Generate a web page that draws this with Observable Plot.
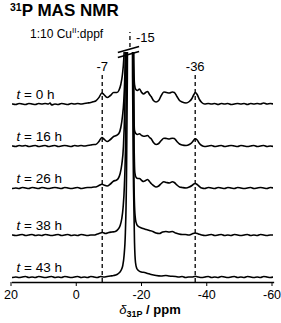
<!DOCTYPE html>
<html><head><meta charset="utf-8">
<script src="https://cdn.jsdelivr.net/npm/d3@7"></script>
<script src="https://cdn.jsdelivr.net/npm/@observablehq/plot@0.6"></script>
<style>
html,body{margin:0;padding:0;background:#fff;}
#wrap{position:relative;width:281px;height:323px;font-family:Arial,"Liberation Sans",sans-serif;color:#000;overflow:hidden;}
#wrap svg{position:absolute;left:0;top:0;}
.title{position:absolute;left:10px;top:2px;font-weight:bold;font-size:17px;line-height:1;white-space:nowrap;}
.title .sup{font-size:10.5px;position:relative;top:-5px;}
.sub{position:absolute;left:30px;top:28px;font-size:12px;line-height:1;white-space:nowrap;}
.sub .sup{font-size:8px;position:relative;top:-5px;}
.xlab{position:absolute;left:150px;top:303px;transform:translateX(-50%);font-size:13px;line-height:1;white-space:nowrap;}
.xlab .sub2{font-size:9px;font-weight:bold;position:relative;top:3px;}
</style></head>
<body><div id="wrap">
<div class="title"><span class="sup">31</span>P MAS NMR</div>
<div class="sub">1:10 Cu<span class="sup">II</span>:dppf</div>
<div class="xlab"><i>δ</i><span class="sub2">31P</span> <b>/ ppm</b></div>
</div>
<script>
const hours = [0, 16, 26, 38, 43];
const offsets = [178, 136, 94, 47, 5];
const xTicks = [20, 0, -20, -40, -60];
const peakLabels = ["-7", "-15", "-36"];
const peakPositions = [-7.5, -16, -36];

const spectrum_t0 = [[20,0.5],[19,0],[18,1],[17,0.5],[16,0],[15,1],[14,0.5],[13,0],[12,1],[11,0.5],[10,1],[9,0.5],[8.5,1.5],[8,-0.5],[7,0.5],[6,0],[5,1],[4,0.5],[3,0],[2,1],[1,0.5],[0,1],[-1,0.5],[-2,1],[-3,1.5],[-4,2],[-5,3],[-5.5,3.5],[-6.5,7],[-7.4,11.5],[-8,10],[-9,7],[-10,9],[-11,12],[-12,12],[-12.6,14],[-13.2,20],[-13.7,30],[-14.1,45],[-14.5,80],[-14.9,170],[-15.3,400],[-16.6,400],[-16.9,140],[-17.15,45],[-17.4,20],[-17.8,15],[-18.3,14],[-18.9,15.5],[-19.6,12],[-20.2,10.5],[-20.8,12],[-21.4,13],[-22,10],[-22.5,8],[-23.2,4],[-24,2.5],[-24.8,4],[-25.6,9],[-26.4,12.5],[-27.2,12],[-28.1,11.5],[-29,12.5],[-29.6,12],[-30.4,8],[-31.2,4],[-32,2.5],[-33.2,1.5],[-34.2,3],[-35,6],[-35.6,10],[-36,12],[-36.6,10],[-37.3,5],[-38,2],[-38.9,0.5],[-40,1],[-41,0.5],[-42,1],[-43,0],[-44,1],[-45,0.5],[-46,1],[-47,0],[-48,0.5],[-49,1],[-50,0.5],[-51,1],[-52,0],[-53,1],[-54,0.5],[-55,1],[-56,0.5],[-57,1.5],[-58,0.5],[-59,1],[-60,0.5]];

const spectrum_t16 = [[20,0.5],[19,0],[18,1],[17,0.5],[16,1],[15,0],[14,0.5],[13,1],[12,0],[11,0.5],[10,1],[9,0],[8,0.5],[7,1],[6,0],[5,0.5],[4,1],[3,0.5],[2,0],[1,1],[0,0.5],[-1,1],[-2,0.5],[-3,1],[-4,1.5],[-5,2],[-5.5,2],[-6.5,5],[-7.4,9],[-8,7.5],[-9,5],[-10,7],[-11,10],[-11.8,11],[-12.6,13],[-13.2,19],[-13.7,30],[-14.1,45],[-14.5,80],[-14.9,170],[-15.3,450],[-16.6,450],[-16.9,150],[-17.15,45],[-17.4,16],[-17.8,13],[-18.3,12],[-18.9,12.7],[-19.6,11],[-20.2,10.3],[-20.8,10.5],[-21.4,11],[-22,9],[-22.5,7.7],[-23.2,4],[-24,2],[-24.8,3],[-25.6,6],[-26.4,8.3],[-27.2,8],[-28.1,7.5],[-29,8.3],[-29.6,8],[-30.4,5],[-31.2,2.5],[-32,1.5],[-33.2,1],[-34.2,2],[-35,4],[-35.6,6.5],[-36,7.7],[-36.6,6.5],[-37.3,3],[-38,1],[-38.9,0],[-40,0.5],[-41,1],[-42,0],[-43,0.5],[-44,1],[-45,0],[-46,0.5],[-47,1],[-48,0.5],[-49,0],[-50,1],[-51,0.5],[-52,0],[-53,0.5],[-54,1],[-55,0],[-56,0.5],[-57,1],[-58,0],[-59,0.5],[-60,0]];

const spectrum_t26 = [[20,0],[19,0.5],[18,0],[17,1],[16,0.5],[15,0],[14,1],[13,0.5],[12,0],[11,1],[10,0.5],[9,0],[8,0.5],[7,1],[6,0.5],[5,0],[4,1],[3,0.5],[2,0],[1,0.5],[0,1],[-1,0],[-2,0.5],[-3,1],[-4,1],[-5,1.5],[-5.5,1.5],[-6.5,3],[-7.4,4.3],[-8,3.5],[-9,2.5],[-10,4.5],[-11,7.5],[-11.8,8.3],[-12.4,10],[-13,15],[-13.5,24],[-14,42],[-14.4,80],[-14.8,170],[-15.2,450],[-16.7,450],[-17,160],[-17.25,50],[-17.5,16],[-17.9,11],[-18.4,10],[-18.9,10],[-19.6,8],[-20.2,7],[-20.8,8],[-21.4,9],[-22,7],[-22.5,5],[-23.2,3],[-24,1.5],[-24.8,2.5],[-25.6,5],[-26.4,6.7],[-27.2,6],[-28.1,5.5],[-29,6.7],[-29.6,6],[-30.4,3.5],[-31.2,1.5],[-32,1],[-33.2,0.5],[-34.2,1.5],[-35,3],[-35.6,4.5],[-36,5],[-36.6,4],[-37.3,2],[-38,0.5],[-38.9,0],[-40,1],[-41,0.5],[-42,0],[-43,1],[-44,0.5],[-45,0],[-46,1],[-47,0.5],[-48,0],[-49,1],[-50,0.5],[-51,0],[-52,0.5],[-53,1],[-54,0],[-55,0.5],[-56,1],[-57,0.5],[-58,0],[-59,1],[-60,0.5]];

const spectrum_t38 = [[20,0.5],[19,0],[18,0.5],[17,1],[16,0],[15,0.5],[14,1],[13,0],[12,0.5],[11,0],[10,1],[9,0.5],[8,0],[7,0.5],[6,1],[5,0],[4,0.5],[3,1],[2,0],[1,0.5],[0,0],[-1,1],[-2,0.5],[-3,0],[-4,0.5],[-5,0.5],[-6,1.5],[-7,2.5],[-7.6,3],[-8.5,2],[-9.5,3],[-10.5,3.5],[-11.5,4],[-12.3,6],[-13,10],[-13.5,17],[-13.9,28],[-14.3,50],[-14.7,100],[-15.1,230],[-15.4,500],[-16.6,500],[-16.9,220],[-17.15,80],[-17.4,30],[-17.7,16],[-18.1,11],[-18.6,9],[-19.2,8],[-20,7],[-21,6],[-22,5],[-23,4],[-24,2.5],[-25,2],[-26,3.5],[-27,4],[-28,3.5],[-29,4],[-30,2.5],[-31,1.5],[-32,1],[-33,1],[-34,0.5],[-35,1.5],[-36,2.5],[-37,1.5],[-38,0.5],[-39,0],[-40,0.5],[-41,1],[-42,0],[-43,0.5],[-44,1],[-45,0],[-46,0.5],[-47,0],[-48,1],[-49,0.5],[-50,0],[-51,0.5],[-52,1],[-53,0],[-54,0.5],[-55,0],[-56,1],[-57,0.5],[-58,0],[-59,0.5],[-60,0.5]];

const spectrum_t43 = [[20,0],[19,0.5],[18,0],[17,0.5],[16,1],[15,0],[14,0.5],[13,0],[12,1],[11,0.5],[10,0],[9,0.5],[8,1],[7,0],[6,0.5],[5,0],[4,1],[3,0.5],[2,0],[1,0.5],[0,1],[-1,0],[-2,0.5],[-3,0],[-4,1],[-5,0.5],[-6,0],[-7,1],[-8,0.5],[-9,1],[-10,1.5],[-11,2],[-12,3],[-12.8,5],[-13.4,8],[-13.8,12],[-14.2,22],[-14.6,45],[-14.9,90],[-15.2,200],[-15.5,500],[-16.5,500],[-16.8,200],[-17.1,90],[-17.4,35],[-17.7,15],[-18.1,9],[-18.6,7],[-19.5,5.5],[-20.5,5],[-21.5,4],[-22.5,3],[-24,2],[-25.5,1.5],[-27,2],[-28,1.5],[-30,1],[-31,0.5],[-32,1],[-33,0],[-34,0.5],[-35,0.5],[-36,1.2],[-37,0.5],[-38,0],[-39,0.5],[-40,1],[-41,0],[-42,0.5],[-43,0],[-44,1],[-45,0.5],[-46,0],[-47,0.5],[-48,1],[-49,0],[-50,0.5],[-51,0],[-52,1],[-53,0.5],[-54,0],[-55,0.5],[-56,0],[-57,1],[-58,0.5],[-59,0],[-60,0.5]];

const spectra = [spectrum_t0, spectrum_t16, spectrum_t26, spectrum_t38, spectrum_t43];

const rows = spectra.flatMap((s, i) => s.map(([ppm, v]) => ({ppm, y: v + offsets[i], h: hours[i]})));
const traceLabels = hours.map((h, i) => ({label: `t = ${h} h`, y: offsets[i]}));
const sideGuides = [peakPositions[0], peakPositions[2]];
const centre = peakPositions[1];
const breaks = [
  {x1: centre + 3.7, x2: centre - 2.8, y1: 230, y2: 236},
  {x1: centre + 3.7, x2: centre - 2.8, y1: 225, y2: 231}
];

const chart = Plot.plot({
  width: 281, height: 323,
  marginLeft: 12, marginRight: 8, marginTop: 52, marginBottom: 41,
  style: {fontFamily: 'Arial, "Liberation Sans", sans-serif', fontSize: "13px", background: "transparent", color: "#000", overflow: "visible"},
  x: {domain: [20, -60]},
  y: {domain: [0, 230], axis: null},
  marks: [
    Plot.ruleX(sideGuides, {y1: 0, y2: 209, stroke: "#000", strokeWidth: 1.3, strokeDasharray: "4,3"}),
    Plot.line(rows, {x: "ppm", y: "y", z: "h", stroke: "#000", strokeWidth: 1.6, curve: "monotone-x", clip: true}),
    Plot.ruleX([centre], {y1: 47, y2: 226, stroke: "#fff", strokeWidth: 1.3, strokeDasharray: "4,3"}),
    Plot.ruleX([centre], {y1: 235, y2: 250, stroke: "#000", strokeWidth: 1.3, strokeDasharray: "4,3"}),
    Plot.link(breaks, {x1: "x1", x2: "x2", y1: "y1", y2: "y2", stroke: "#000", strokeWidth: 1.8}),
    Plot.text([0, 2], {x: i => peakPositions[i], y: () => 216, text: i => peakLabels[i], fontSize: 13}),
    Plot.text([1], {x: i => peakPositions[i], y: () => 245, text: i => peakLabels[i], textAnchor: "start", dx: 6, fontSize: 13}),
    Plot.text(traceLabels, {y: "y", text: "label", frameAnchor: "left", textAnchor: "start", dx: 4, dy: -10, fontSize: 13.5}),
    Plot.frame({anchor: "bottom", stroke: "#000", strokeWidth: 1.3}),
    Plot.axisX({ticks: xTicks, tickSize: 4, tickPadding: 4, tickFormat: d => String(d), label: null, fontSize: 12.5, dx: -1.5})
  ]
});

d3.select(chart).selectAll("text").filter(function() { return /^t = /.test(this.textContent); }).each(function() {
  const s = this.textContent;
  this.textContent = "";
  d3.select(this).append("tspan").attr("font-style", "italic").text("t");
  d3.select(this).append("tspan").text(s.slice(1));
});

document.getElementById("wrap").prepend(chart);
</script>
</body></html>
